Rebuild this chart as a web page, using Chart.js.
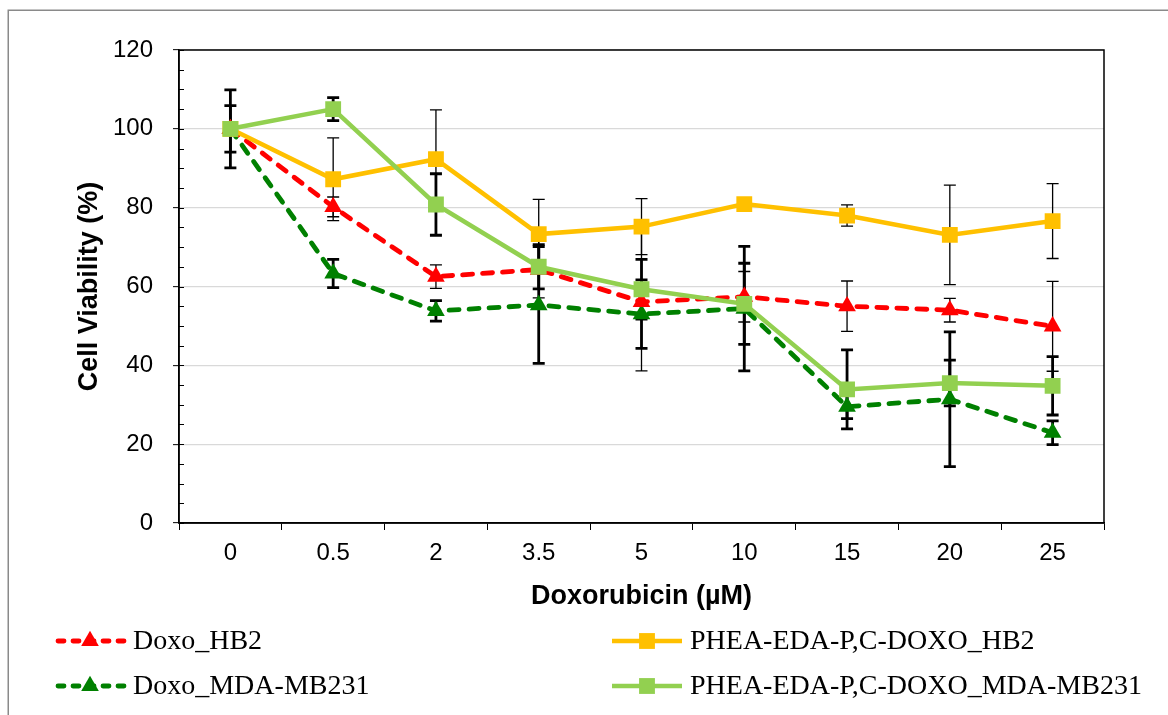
<!DOCTYPE html>
<html><head><meta charset="utf-8">
<script src="https://cdn.jsdelivr.net/npm/chart.js@4.4.0/dist/chart.umd.min.js"></script>
<style>html,body{margin:0;padding:0;background:#fff;}#wrap{position:relative;width:1168px;height:715px;}</style>
</head><body><div id="wrap"><canvas id="c" width="1168" height="715"></canvas></div>
<script>
const categories = ['0', '0.5', '2', '3.5', '5', '10', '15', '20', '25'];
const doxoHB2      = [100, 80.2, 62.5, 64.3, 56.1, 57.4, 55.0, 54.0, 49.9];
const doxoHB2Err   = [0, 2.5, 3, 7.2, 17.5, 6.4, 6.4, 3, 11.4];
const doxoMDA      = [100, 63.3, 53.8, 55.3, 53.0, 54.4, 29.5, 31.4, 22.9];
const doxoMDAErr   = [9.9, 3.6, 2.6, 14.8, 8.7, 15.8, 3, 17.1, 3];
const pheaHB2      = [100, 87.2, 92.3, 73.3, 75.2, 80.9, 78.0, 73.1, 76.6];
const pheaHB2Err   = [0, 10.5, 12.5, 8.8, 7.1, 0, 2.7, 12.6, 9.5];
const pheaMDA      = [100, 105.0, 80.8, 65.0, 59.3, 55.6, 33.9, 35.5, 34.8];
const pheaMDAErr   = [5.9, 2.9, 7.8, 5.6, 7.6, 10.3, 10.0, 5.8, 7.4];
const seriesLabels = ['Doxo_HB2', 'Doxo_MDA-MB231', 'PHEA-EDA-P,C-DOXO_HB2', 'PHEA-EDA-P,C-DOXO_MDA-MB231'];
const yTicks = [0, 20, 40, 60, 80, 100, 120];

const SANS = "'Liberation Sans', Arial, sans-serif";
const SERIF = "'Liberation Serif', 'Times New Roman', serif";

const errorSets = [doxoHB2Err, doxoMDAErr, pheaHB2Err, pheaMDAErr];
const errorWidths = [1.3, 2.8, 1.3, 2.8];

function ds(label, data, color, dashed, style, order) {
  return {
    label, data, borderColor: color, backgroundColor: color,
    borderWidth: dashed ? 4.8 : 4.5, borderDash: dashed ? [10, 10] : [], borderCapStyle: dashed ? 'round' : 'butt',
    pointStyle: style, pointRadius: style === 'rect' ? 11.2 : 10.2, pointHoverRadius: 11,
    pointBorderWidth: 0, pointBackgroundColor: color, tension: 0, fill: false, order
  };
}

const errorBarPlugin = {
  id: 'errbars',
  beforeDatasetsDraw(chart) {
    const ctx = chart.ctx, xs = chart.scales.x, ys = chart.scales.y;
    chart.data.datasets.forEach((d, di) => {
      const errs = errorSets[di];
      ctx.save();
      ctx.strokeStyle = '#000';
      ctx.lineWidth = errorWidths[di];
      d.data.forEach((v, i) => {
        const e = errs[i];
        if (!e) return;
        const x = xs.getPixelForValue(i);
        const y1 = ys.getPixelForValue(v + e), y2 = ys.getPixelForValue(v - e);
        ctx.beginPath();
        ctx.moveTo(x, y1); ctx.lineTo(x, y2);
        ctx.moveTo(x - 6, y1); ctx.lineTo(x + 6, y1);
        ctx.moveTo(x - 6, y2); ctx.lineTo(x + 6, y2);
        ctx.stroke();
      });
      ctx.restore();
    });
  }
};

const framePlugin = {
  id: 'frame',
  beforeDraw(chart) {
    const ctx = chart.ctx;
    ctx.save();
    ctx.fillStyle = '#fff';
    ctx.fillRect(0, 0, chart.width, chart.height);
    ctx.strokeStyle = '#8a8a8a';
    ctx.lineWidth = 1.5;
    ctx.strokeRect(8.25, 10.25, 1300, 900);
    ctx.restore();
  },
  afterDraw(chart) {
    const ctx = chart.ctx, a = chart.chartArea, ys = chart.scales.y;
    ctx.save();
    ctx.strokeStyle = '#000';
    ctx.lineWidth = 1.5;
    ctx.strokeRect(a.left, a.top, a.right - a.left, a.bottom - a.top);
    ctx.lineWidth = 1;
    ctx.beginPath();
    for (let v = 0; v <= 120; v += 5) {
      const y = Math.round(ys.getPixelForValue(v)) + 0.5;
      ctx.moveTo(a.left, y); ctx.lineTo(a.left + 5, y);
    }
    ctx.stroke();
    // legend
    const slots = [
      {di: 0, x: 55, y: 641}, {di: 2, x: 612, y: 641},
      {di: 1, x: 55, y: 686}, {di: 3, x: 612, y: 686}
    ];
    slots.forEach(s => {
      const d = chart.data.datasets[s.di];
      ctx.save();
      ctx.strokeStyle = d.borderColor;
      ctx.lineWidth = d.borderWidth;
      ctx.lineCap = d.borderCapStyle;
      ctx.setLineDash(d.borderDash.length ? [6, 9] : []);
      ctx.beginPath();
      ctx.moveTo(s.x + (d.borderDash.length ? 3 : 0), s.y);
      ctx.lineTo(s.x + 70, s.y);
      ctx.stroke();
      ctx.setLineDash([]);
      ctx.fillStyle = d.borderColor;
      Chart.helpers.drawPoint(ctx, {pointStyle: d.pointStyle, radius: d.pointRadius, rotation: 0, borderWidth: 0}, s.x + 35, s.y);
      ctx.restore();
      ctx.fillStyle = '#000';
      ctx.font = '28px ' + SERIF;
      ctx.textBaseline = 'middle';
      ctx.textAlign = 'left';
      ctx.fillText(d.label, s.x + 78, s.y + 1);
    });
    ctx.restore();
  }
};

new Chart(document.getElementById('c'), {
  type: 'line',
  data: {
    labels: categories,
    datasets: [
      ds(seriesLabels[0], doxoHB2, '#FF0000', true, 'triangle', 2),
      ds(seriesLabels[1], doxoMDA, '#008000', true, 'triangle', 3),
      ds(seriesLabels[2], pheaHB2, '#FFC000', false, 'rect', 1),
      ds(seriesLabels[3], pheaMDA, '#92D050', false, 'rect', 0)
    ]
  },
  options: {
    responsive: false, animation: false, devicePixelRatio: 1,
    layout: {padding: {left: 0, top: 50, right: 64, bottom: 92}},
    plugins: {legend: {display: false}, tooltip: {enabled: false}},
    scales: {
      x: {
        type: 'category', offset: true,
        grid: {display: true, offset: true, drawOnChartArea: false, drawTicks: true, tickLength: 7, tickColor: '#000', tickWidth: 1},
        border: {display: true, color: '#000', width: 1.5},
        ticks: {color: '#000', font: {family: SANS, size: 24}, padding: 9, maxRotation: 0, autoSkip: false},
        title: {display: true, text: 'Doxorubicin (µM)', color: '#000', font: {family: SANS, size: 27, weight: 'bold'}, padding: {top: 0, bottom: 10}},
        afterFit(s) { s.height = 100; }
      },
      y: {
        min: 0, max: 120,
        afterBuildTicks(s) { s.ticks = yTicks.map(v => ({value: v})); },
        grid: {color: '#d9d9d9', lineWidth: 1.3, drawTicks: true, tickLength: 6, tickColor: '#000', tickWidth: 1},
        border: {display: true, color: '#000', width: 1.5},
        ticks: {color: '#000', font: {family: SANS, size: 24}, padding: 20},
        title: {display: true, text: 'Cell Viability (%)', color: '#000', font: {family: SANS, size: 27, weight: 'bold'}, padding: {top: 73, bottom: 0}},
        afterFit(s) { s.width = 179; }
      }
    }
  },
  plugins: [framePlugin, errorBarPlugin]
});
</script>
</body></html>
